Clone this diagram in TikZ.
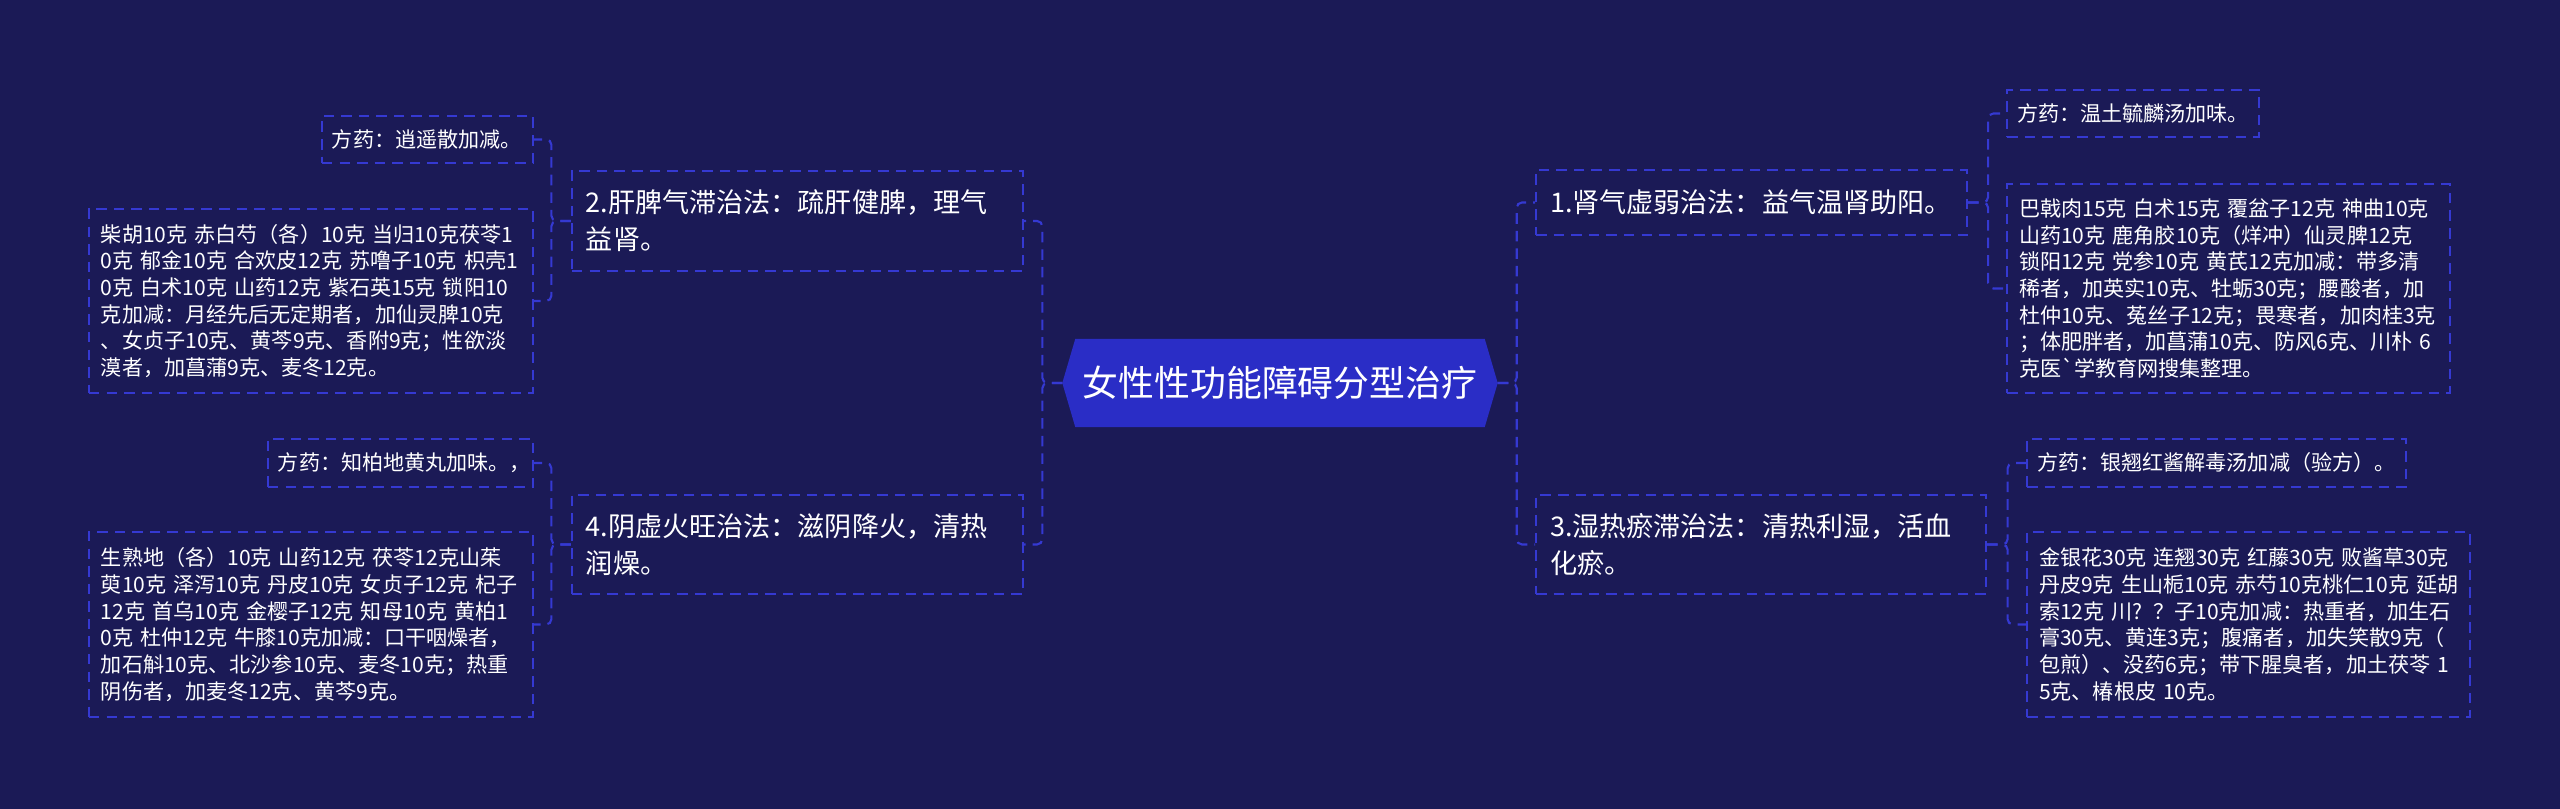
\documentclass[tikz,border=0pt]{standalone}
\usepackage{fontspec}
\newfontfamily\cjk{Noto Sans CJK SC}
\usetikzlibrary{backgrounds}
\definecolor{bgnavy}{HTML}{1B1A56}
\definecolor{rootblue}{HTML}{2A2DC6}
\definecolor{linkblue}{HTML}{3539D2}

\begin{document}
\begin{tikzpicture}[
    linedash/.style={draw=linkblue, line width=0.6pt, dash pattern=on 3pt off 2pt},
    link/.style={linedash, rounded corners=1.5pt},
    rootnode/.style={text=white, font=\cjk\fontsize{10.2}{12}\selectfont, minimum width=4.08cm, minimum height=0.87cm, inner sep=0pt},
    branchbox/.style={linedash, text=white, font=\cjk\fontsize{7.7}{10.5}\selectfont, align=left, inner xsep=0.14cm, inner ysep=0pt},
    leafbox/.style={linedash, text=white, font=\cjk\fontsize{6}{7.6}\selectfont, align=left, inner xsep=0.12cm, inner ysep=0pt},
    tipbox/.style={leafbox, inner xsep=0.1cm},
]
    \useasboundingbox (0,0) rectangle (25.6,8.09);

    \node[rootnode] (root) at (12.80,4.26) {女性性功能障碍分型治疗};
    \coordinate (rootL) at ([xshift=-0.13cm]root.west);
    \coordinate (rootR) at ([xshift=0.13cm]root.east);

    \node[branchbox, anchor=east, text width=4.23cm, minimum height=1.00cm] (liver) at (10.24,5.88) {2.肝脾气滞治法：疏肝健脾，理气\\益肾。};
    \node[branchbox, anchor=east, text width=4.23cm, minimum height=0.99cm] (yin) at (10.24,2.645) {4.阴虚火旺治法：滋阴降火，清热\\润燥。};
    \node[branchbox, anchor=west, text width=4.03cm, minimum height=0.65cm] (kidney) at (15.35,6.065) {1.肾气虚弱治法：益气温肾助阳。};
    \node[branchbox, anchor=west, text width=4.22cm, minimum height=0.99cm] (damp) at (15.35,2.645) {3.湿热瘀滞治法：清热利湿，活血\\化瘀。};

    \node[tipbox, anchor=east, text width=1.91cm, minimum height=0.47cm] (liverrx) at (5.34,6.695) {方药：逍遥散加减。};
    \node[leafbox, anchor=east, text width=4.20cm, minimum height=1.84cm] (liverherb) at (5.34,5.08) {柴胡10克 赤白芍（各）10克 当归10克茯苓1\\0克 郁金10克 合欢皮12克 苏噜子10克 枳壳1\\0克 白术10克 山药12克 紫石英15克 锁阳10\\克加减：月经先后无定期者，加仙灵脾10克\\、女贞子10克、黄芩9克、香附9克；性欲淡\\漠者，加菖蒲9克、麦冬12克。};
    \node[tipbox, anchor=east, text width=2.45cm, minimum height=0.48cm] (yinrx) at (5.34,3.46) {方药：知柏地黄丸加味。，};
    \node[leafbox, anchor=east, text width=4.20cm, minimum height=1.85cm] (yinherb) at (5.34,1.845) {生熟地（各）10克 山药12克 茯苓12克山茱\\萸10克 泽泻10克 丹皮10克 女贞子12克 杞子\\12克 首乌10克 金樱子12克 知母10克 黄柏1\\0克 杜仲12克 牛膝10克加减：口干咽燥者，\\加石斛10克、北沙参10克、麦冬10克；热重\\阴伤者，加麦冬12克、黄芩9克。};
    \node[tipbox, anchor=west, text width=2.32cm, minimum height=0.47cm] (kidneyrx) at (20.06,6.955) {方药：温土毓麟汤加味。};
    \node[leafbox, anchor=west, text width=4.19cm, minimum height=2.09cm] (kidneyherb) at (20.06,5.205) {巴戟肉15克 白术15克 覆盆子12克 神曲10克\\山药10克 鹿角胶10克（烊冲）仙灵脾12克\\锁阳12克 党参10克 黄芪12克加减：带多清\\稀者，加英实10克、牡蛎30克；腰酸者，加\\杜仲10克、菟丝子12克；畏寒者，加肉桂3克\\；体肥胖者，加菖蒲10克、防风6克、川朴 6\\克医`学教育网搜集整理。};
    \node[tipbox, anchor=west, text width=3.59cm, minimum height=0.48cm] (damprx) at (20.26,3.46) {方药：银翘红酱解毒汤加减（验方）。};
    \node[leafbox, anchor=west, text width=4.19cm, minimum height=1.85cm] (dampherb) at (20.26,1.845) {金银花30克 连翘30克 红藤30克 败酱草30克\\丹皮9克~生山栀10克~赤芍10克桃仁10克~延胡\\索12克 川? ？子10克加减：热重者，加生石\\膏30克、黄连3克；腹痛者，加失笑散9克（\\包煎）、没药6克；带下腥臭者，加土茯苓 1\\5克、椿根皮 10克。};

    \begin{scope}[on background layer]
        \fill[bgnavy] (0,0) rectangle (25.6,8.09);
        \fill[rootblue] (rootL) -- (root.north west) -- (root.north east) -- (rootR) -- (root.south east) -- (root.south west) -- cycle;
    \end{scope}

    \draw[link] (rootL) -- ++(-0.2,0) |- (liver.east);
    \draw[link] (rootL) -- ++(-0.2,0) |- (yin.east);
    \draw[link] (rootR) -- ++(0.19,0) |- (kidney.west);
    \draw[link] (rootR) -- ++(0.19,0) |- (damp.west);

    \draw[link] (liver.west) -- ++(-0.195,0) |- (liverrx.east);
    \draw[link] (liver.west) -- ++(-0.195,0) |- (liverherb.east);
    \draw[link] (yin.west) -- ++(-0.195,0) |- (yinrx.east);
    \draw[link] (yin.west) -- ++(-0.195,0) |- (yinherb.east);
    \draw[link] (kidney.east) -- ++(0.2,0) |- (kidneyrx.west);
    \draw[link] (kidney.east) -- ++(0.2,0) |- (kidneyherb.west);
    \draw[link] (damp.east) -- ++(0.205,0) |- (damprx.west);
    \draw[link] (damp.east) -- ++(0.205,0) |- (dampherb.west);
\end{tikzpicture}
\end{document}
